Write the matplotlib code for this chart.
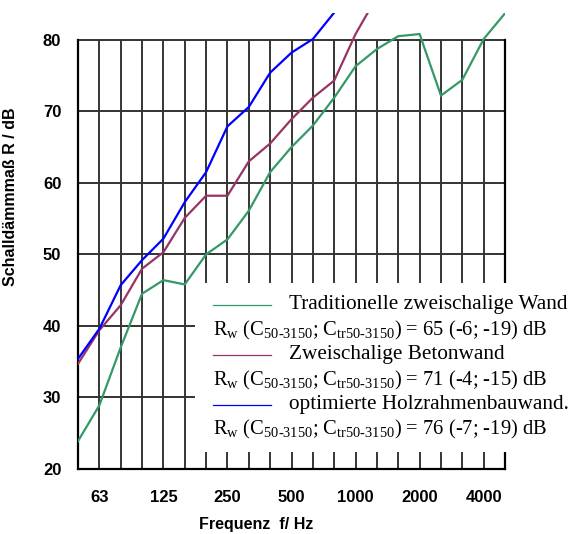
import matplotlib

matplotlib.use("Agg")
import matplotlib.pyplot as plt
from matplotlib.lines import Line2D
from matplotlib.patches import Rectangle

# third-octave bands 50 Hz .. 5000 Hz
bands = [50, 63, 80, 100, 125, 160, 200, 250, 315, 400, 500, 630, 800,
         1000, 1250, 1600, 2000, 2500, 3150, 4000, 5000]
tick_labels = ["63", "125", "250", "500", "1000", "2000", "4000"]

r_traditionell = [23.9, 28.9, 37.0, 44.5, 46.4, 45.8, 50.0, 52.1, 56.1, 61.5,
                  65.0, 68.0, 71.9, 76.3, 78.7, 80.5, 80.8, 72.2, 74.4, 80.1, 83.7]
r_beton = [34.7, 39.4, 42.9, 48.0, 50.3, 55.1, 58.2, 58.2, 63.0, 65.5,
           68.9, 71.9, 74.3, 80.8, 86.0]
r_holz = [35.4, 39.6, 45.7, 49.2, 52.2, 57.3, 61.5, 67.9, 70.6, 75.4,
          78.2, 80.1, 83.8, 88.0]

legend_names = ["Traditionelle zweischalige Wand",
                "Zweischalige Betonwand",
                "optimierte Holzrahmenbauwand."]
legend_values = ["65 (-6; -19) dB", "71 (-4; -15) dB", "76 (-7; -19) dB"]
colors = ["#339966", "#993366", "#0000ff"]

W, H = 574, 534
plt.rcParams["font.family"] = ["Liberation Sans", "DejaVu Sans"]
plt.rcParams["mathtext.fontset"] = "custom"
plt.rcParams["mathtext.rm"] = "Liberation Serif"

fig = plt.figure(figsize=(W / 100, H / 100), dpi=100)
ax = fig.add_axes([78 / W, 1 - 469 / H, 427 / W, (469 - 13.3) / H])

x = list(range(len(bands)))
series = [r_traditionell, r_beton, r_holz]
for vals, c in zip(series, colors):
    ax.plot(x[:len(vals)], vals, color=c, lw=1.6, zorder=5, solid_joinstyle="miter")

ax.set_xlim(0, len(bands) - 1)
ax.set_ylim(20, 83.7)

# grid
ax.vlines(x, 20, 80, color="black", lw=1.1, zorder=1)
for yv in [30, 40, 50, 60, 70, 80]:
    ax.axhline(yv, color="#333333", lw=1.4, zorder=1)

ax.spines["top"].set_visible(False)
for s in ["left", "right", "bottom"]:
    ax.spines[s].set_linewidth(1.6)
ax.spines["left"].set_bounds(20, 80)
ax.spines["right"].set_bounds(20, 80)

ax.set_yticks([20, 30, 40, 50, 60, 70, 80])
ax.set_xticks([bands.index(int(t)) for t in tick_labels])
ax.set_xticklabels(tick_labels)
ax.tick_params(length=0, labelsize=12)
ax.tick_params(axis="y", pad=12)
ax.tick_params(axis="x", pad=15)
for lab in ax.get_xticklabels() + ax.get_yticklabels():
    lab.set_fontweight("bold")

ax.set_ylabel("Schalldämmmaß R / dB", fontsize=11.5, fontweight="bold")
ax.yaxis.set_label_coords((18 - 78) / 427, (469 - 196.5) / (469 - 13.3))
ax.set_xlabel("Frequenz  f/ Hz", fontsize=11.5, fontweight="bold", va="center")
ax.xaxis.set_label_coords((256 - 78) / 427, -(524 - 469) / (469 - 13.3))


def fx(px):
    return px / W


def fy(py):
    return 1 - py / H


# white legend area covering the grid
fig.patches.append(Rectangle((fx(195), fy(452)), fx(600) - fx(195), fy(282.7) - fy(452),
                             transform=fig.transFigure, facecolor="white",
                             edgecolor="none", zorder=3))

serif = ["Liberation Serif", "DejaVu Serif"]
rw = r"R$_\mathrm{w}$ (C$_\mathrm{50\text{-}3150}$; C$_\mathrm{tr50\text{-}3150}$) = "
row_y = [305, 330, 355, 380, 405, 429]
for i, (name, val, c) in enumerate(zip(legend_names, legend_values, colors)):
    y1 = row_y[2 * i]
    y2 = row_y[2 * i + 1]
    fig.lines.append(Line2D([fx(213), fx(271)], [fy(y1), fy(y1)], color=c, lw=0.9,
                            transform=fig.transFigure, zorder=6))
    fig.text(fx(289), fy(y1), name, family=serif, fontsize=15.3, va="center", zorder=6)
    fig.text(fx(213), fy(y2), rw + val, family=serif, fontsize=14.8, va="center", zorder=6)

fig.savefig("out.png", dpi=100)
